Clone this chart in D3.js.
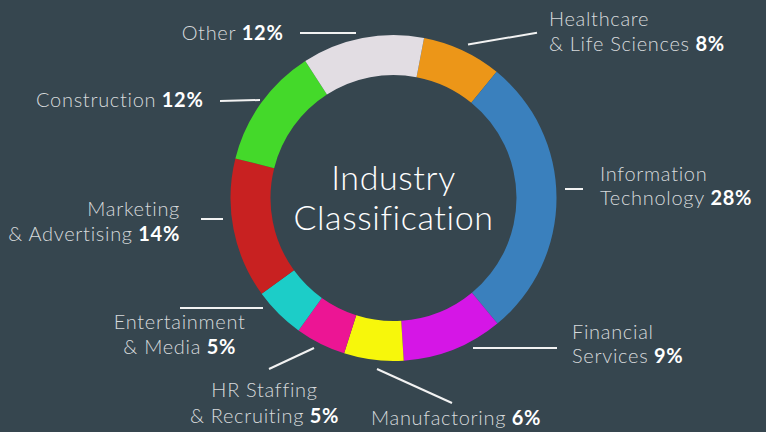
<!DOCTYPE html>
<html><head><meta charset="utf-8">
<script src="https://cdn.jsdelivr.net/npm/d3@7"></script>
<style>html,body{margin:0;padding:0;background:#36464f;overflow:hidden}</style>
</head><body><svg id="c" width="766" height="432"></svg>
<script>
// ---- data ----
const categories = ["Healthcare & Life Sciences","Information Technology","Financial Services","Manufactoring","HR Staffing & Recruiting","Entertainment & Media","Marketing & Advertising","Construction","Other"];
const shares = [7.9, 28.1, 10.0, 5.9, 5.0, 5.1, 13.9, 12.0, 12.1];
const percentLabels = ["8%","28%","9%","6%","5%","5%","14%","12%","12%"];
const labelLines = [["Healthcare","& Life Sciences"],["Information","Technology"],["Financial","Services"],["Manufactoring"],["HR Staffing","& Recruiting"],["Entertainment","& Media"],["Marketing","& Advertising"],["Construction"],["Other"]];
const colors = ["#ec9618","#3a80bd","#d516e6","#f7f70b","#ec1594","#1ccdc8","#c82121","#44d92a","#e2dde3"];
const centerTitle = ["Industry","Classification"];

// ---- layout (annotation placement) ----
const layout = [
  {anchor:"start", x:549, y:26, lh:25, line:[468,44.5,537,32.7]},
  {anchor:"start", x:600, y:181, lh:24, line:[565,189,583,189]},
  {anchor:"start", x:572, y:338.5, lh:24.5, line:[473,348,557,348]},
  {anchor:"start", x:371, y:424.5, lh:25, line:[377,369,452,403]},
  {anchor:"middle", x:264.5, y:397, lh:25.5, line:[269,369,314,348]},
  {anchor:"middle", x:179.7, y:328.5, lh:25.5, line:[180,308,263,308]},
  {anchor:"end", x:180, y:216, lh:25, line:[201,219,223,219]},
  {anchor:"end", x:203.5, y:106.7, lh:25, line:[220,101,260,100]},
  {anchor:"end", x:283.5, y:40.3, lh:25, line:[300,33,356,33]}
];

const W = 766, H = 432, cx = 393.5, cy = 198;
const svg = d3.select("#c");
svg.append("rect").attr("width",W).attr("height",H).attr("fill","#36464f");

const start = 10.8 * Math.PI / 180;
const pie = d3.pie().sort(null).value(d => d).startAngle(start).endAngle(start + 2*Math.PI);
const arc = d3.arc().innerRadius(123).outerRadius(163);
const g = svg.append("g").attr("transform",`translate(${cx},${cy})`);
g.selectAll("path").data(pie(shares)).join("path")
  .attr("d", arc).attr("fill",(d,i)=>colors[i]);

const font = "Lato, 'Open Sans', sans-serif";
// center title
svg.append("g").selectAll("text").data(centerTitle).join("text")
  .attr("x", cx).attr("y",(d,i)=>189.5 + i*40.5)
  .attr("text-anchor","middle").attr("font-family",font).attr("font-weight",300)
  .attr("font-size",34).attr("letter-spacing",0.6).attr("fill","#ffffff").text(d=>d);

// leader lines
svg.append("g").selectAll("line").data(layout).join("line")
  .attr("x1",d=>d.line[0]).attr("y1",d=>d.line[1]).attr("x2",d=>d.line[2]).attr("y2",d=>d.line[3])
  .attr("stroke","#f2f2f2").attr("stroke-width",2);

// labels
const lg = svg.append("g").attr("font-family",font).attr("font-size",20).attr("letter-spacing",0.7);
categories.forEach((c,i)=>{
  const L = layout[i], lines = labelLines[i];
  const t = lg.append("text").attr("text-anchor",L.anchor);
  lines.forEach((ln,j)=>{
    const ts = t.append("tspan").attr("x",L.x).attr("y",L.y + j*L.lh)
      .attr("font-weight",300).attr("fill","#d6dadc").text(ln);
    if (j === lines.length-1) {
      t.append("tspan").attr("font-weight",700).attr("fill","#ffffff").text(" " + percentLabels[i]);
    }
  });
});
</script></body></html>
